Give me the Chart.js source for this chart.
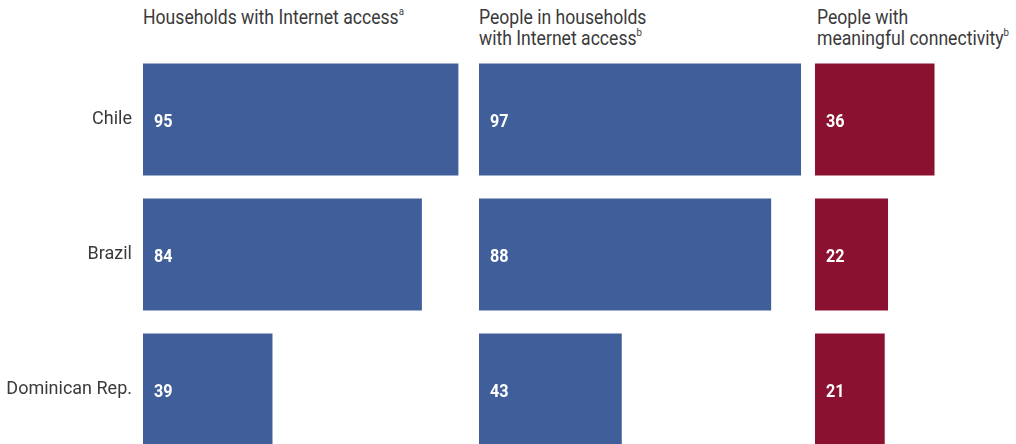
<!DOCTYPE html>
<html>
<head>
<meta charset="utf-8">
<script src="https://cdn.jsdelivr.net/npm/chart.js@4.4.1/dist/chart.umd.min.js"></script>
<style>
  body { margin: 0; background: #fff; }
  #wrap { position: relative; width: 1016px; height: 444px; overflow: hidden; }
  canvas { position: absolute; top: 0; }
  .title {
    position: absolute; top: 7px; white-space: nowrap;
    font-family: Roboto, sans-serif;
    font-size: 20px; line-height: 21px; color: #3a3a3a;
    transform: scaleX(0.88); transform-origin: 0 0;
  }
  .title sup { font-size: 11px; vertical-align: 9px; line-height: 0; }
</style>
</head>
<body>
<div id="wrap">
  <div class="title" style="left:143px">Households with Internet access<sup>a</sup></div>
  <div class="title" style="left:479px">People in households<br>with Internet access<sup>b</sup></div>
  <div class="title" style="left:817px">People with<br>meaningful connectivity<sup>b</sup></div>

  <canvas id="c1" width="475" height="460" style="left:0"></canvas>
  <canvas id="c2" width="332" height="460" style="left:479px"></canvas>
  <canvas id="c3" width="332" height="460" style="left:815px"></canvas>
</div>
<script>
// Countries and percentages per indicator
var countries = ["Chile", "Brazil", "Dominican Rep."];
var householdsAccess = [95, 84, 39];
var peopleInHouseholds = [97, 88, 43];
var meaningfulConnectivity = [36, 22, 21];

var BLUE = "#405f9a";
var RED = "#8a1230";

// Writes the value in white, condensed, inside the start of each bar
var valueLabels = {
    id: "valueLabels",
    afterDatasetsDraw: function(chart) {
        var ctx = chart.ctx;
        var meta = chart.getDatasetMeta(0);
        var data = chart.data.datasets[0].data;
        ctx.save();
        ctx.fillStyle = "#fff";
        ctx.font = "bold 19px Roboto, sans-serif";
        ctx.textAlign = "left";
        ctx.textBaseline = "middle";
        meta.data.forEach(function(bar, i) {
            ctx.save();
            ctx.translate(bar.base + 11, bar.y + 3);
            ctx.scale(0.85, 1);
            ctx.fillText(data[i], 0, 0);
            ctx.restore();
        });
        ctx.restore();
    }
};

function makeChart(id, values, color, showLabels) {
    var yAxis = { display: false };
    if (showLabels) {
        yAxis = {
            grid: { display: false, drawTicks: false },
            border: { display: false },
            ticks: {
                padding: 11,
                color: "#3a3a3a",
                font: { family: "Roboto", size: 18 }
            },
            // fixed label column, and no extra room kept for half-labels
            afterFit: function(scale) {
                scale.width = 143;
                scale.paddingTop = 0;
                scale.paddingBottom = 0;
            }
        };
    }
    return new Chart(document.getElementById(id), {
        type: "bar",
        data: {
            labels: countries,
            datasets: [{
                data: values,
                backgroundColor: color,
                categoryPercentage: 1,
                barPercentage: 0.83
            }]
        },
        options: {
            indexAxis: "y",
            responsive: false,
            animation: false,
            layout: { padding: { top: 52, bottom: 3, left: 0, right: 0 } },
            plugins: { legend: { display: false }, tooltip: { enabled: false } },
            scales: {
                x: { display: false, min: 0, max: 100 },
                y: yAxis
            }
        },
        plugins: [valueLabels]
    });
}

makeChart("c1", householdsAccess, BLUE, true);
makeChart("c2", peopleInHouseholds, BLUE, false);
makeChart("c3", meaningfulConnectivity, RED, false);
</script>
</body>
</html>
